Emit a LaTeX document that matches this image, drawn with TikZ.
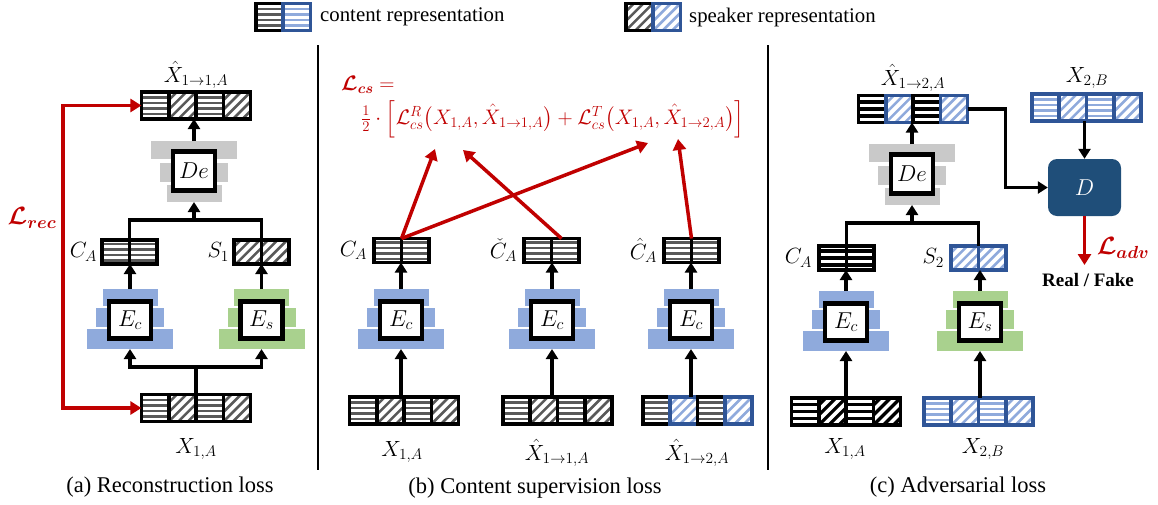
\RequirePackage{fix-cm}
\documentclass[tikz,border=0pt]{standalone}
\usepackage{amsmath}
\usepackage[no-math]{fontspec}
\setmainfont{Liberation Serif}
\usetikzlibrary{arrows.meta,fit,calc,positioning}
\definecolor{cred}{HTML}{C00000}
\definecolor{sgray}{HTML}{595959}
\definecolor{lblue}{HTML}{8FAADC}
\definecolor{dblue}{HTML}{2F5597}
\definecolor{gslab}{HTML}{A9D18E}
\definecolor{bslab}{HTML}{8FAADC}
\definecolor{kslab}{HTML}{C9C9C9}
\definecolor{dbox}{HTML}{1F4E79}
\tikzset{
 cellbase/.style={rectangle, minimum width=27.3pt, minimum height=27pt, inner sep=0, outer sep=0, line width=3.6pt},
 hlines/.style={path picture={\foreach \k in {-8.25,-2.75,2.75,8.25} \draw[#1,line width=2.5pt] ([yshift=\k pt]path picture bounding box.west) -- ([yshift=\k pt]path picture bounding box.east);}},
 klines/.style={path picture={\foreach \k in {-7,0,7} \draw[black,line width=3.2pt] ([yshift=\k pt]path picture bounding box.west) -- ([yshift=\k pt]path picture bounding box.east);}},
 dlines/.style={path picture={\foreach \k in {-4,...,4} \draw[#1,line width=2.6pt] ([xshift=\k*9.5pt-20pt,yshift=-20pt]path picture bounding box.center) -- ([xshift=\k*9.5pt+20pt,yshift=20pt]path picture bounding box.center);}},
 dklines/.style={path picture={\foreach \k in {-4,...,4} \draw[black,line width=3.3pt] ([xshift=\k*10pt-20pt,yshift=-20pt]path picture bounding box.center) -- ([xshift=\k*10pt+20pt,yshift=20pt]path picture bounding box.center);}},
 ch/.style={cellbase, draw=black, hlines=sgray},
 sh/.style={cellbase, draw=black, dlines=sgray},
 ck/.style={cellbase, draw=black, klines},
 sk/.style={cellbase, draw=black, dklines},
 cb/.style={cellbase, draw=dblue, hlines=lblue},
 sb/.style={cellbase, draw=dblue, dlines=lblue},
 sm/.style={minimum height=24pt},
 fitbox/.style={inner sep=0, outer sep=0},
 ebox/.style={draw, line width=4.3pt, fill=white, minimum width=42pt, minimum height=37pt, inner sep=0, font=\fontsize{23}{25}\selectfont},
 arr/.style={line width=3.3pt, -{Triangle[width=12pt,length=10pt]}},
 ln/.style={line width=3.3pt},
 rarr/.style={cred, line width=3.5pt, -{Triangle[width=13pt,length=11pt]}},
 rboth/.style={cred, line width=3.5pt, {Triangle[width=13pt,length=11pt]}-{Triangle[width=13pt,length=11pt]}},
 txt/.style={inner sep=0, font=\fontsize{20.8}{24}\selectfont},
 captxt/.style={inner sep=0, font=\fontsize{22.5}{26}\selectfont},
 mlab/.style={inner sep=0, font=\fontsize{22}{26}\selectfont},
 rlab/.style={inner sep=0, text=cred, font=\fontsize{25}{28}\selectfont},
 rtxt/.style={inner sep=0, text=cred, font=\fontsize{21}{24}\selectfont},
 dnode/.style={rounded corners=9pt, fill=dbox, minimum width=73pt, minimum height=57pt, text=white, font=\fontsize{23}{25}\selectfont},
 rftxt/.style={inner sep=0, font=\fontsize{19}{22}\selectfont\bfseries}
}
\newcommand\encoder[5]{%
 \fill[#4] ({#2-27.5},#3) rectangle ({#2+27.5},{#3+17});
 \fill[#4] ({#2-34},{#3+19}) rectangle ({#2+34},{#3+38});
 \fill[#4] ({#2-43},{#3+40}) rectangle ({#2+43},{#3+60});
 \node[ebox] (#1) at (#2,{#3+31}) {$#5$};
 \coordinate (#1-top) at (#2,#3);
 \coordinate (#1-bot) at (#2,{#3+60});
}
\newcommand\decoder[3]{%
 \fill[kslab] ({#2-43},#3) rectangle ({#2+43},{#3+18});
 \fill[kslab] ({#2-34},{#3+22}) rectangle ({#2+34},{#3+41});
 \fill[kslab] ({#2-27.5},{#3+44}) rectangle ({#2+27.5},{#3+61});
 \node[ebox, minimum height=39pt] (#1) at (#2,{#3+30}) {$De$};
 \coordinate (#1-top) at (#2,#3);
 \coordinate (#1-bot) at (#2,{#3+61});
}
\newcommand\fourbar[7]{%
 \node[#4] (#1-1) at ({#2-40.95},#3) {};
 \node[#5] (#1-2) at ({#2-13.65},#3) {};
 \node[#6] (#1-3) at ({#2+13.65},#3) {};
 \node[#7] (#1-4) at ({#2+40.95},#3) {};
 \node[fitbox, fit=(#1-1)(#1-4)] (#1) {};
}
\newcommand\twobar[5]{%
 \node[#4] (#1-1) at ({#2-13.65},#3) {};
 \node[#5] (#1-2) at ({#2+13.65},#3) {};
 \node[fitbox, fit=(#1-1)(#1-2)] (#1) {};
}
\begin{document}
\begin{tikzpicture}[x=1pt,y=-1pt]
\useasboundingbox (0,0) rectangle (1158,504);
% legend
\twobar{lgc}{283}{17}{ch}{cb}
\node[txt, anchor=west] (lgct) at (320,17) {content representation};
\twobar{lgs}{653}{17}{sh}{sb}
\node[txt, anchor=west] (lgst) at (689,17) {speaker representation};
% separators
\draw[line width=1.2pt] (318,45) -- (318,470);
\draw[line width=1.2pt] (768,45) -- (768,470);
% ---------------- panel (a)
\fourbar{ta}{196}{105.5}{ch}{sh}{ch}{sh}
\node[mlab] (tal) at (196,75) {$\hat{X}_{1\rightarrow1,A}$};
\decoder{dea}{194}{141}
\draw[arr] (dea-top) -- (dea-top |- ta.south);
\twobar{ca}{129.5}{252}{ch,sm}{ch,sm}
\twobar{s1}{261.5}{252}{sh,sm}{sh,sm}
\node[mlab, left=5pt of ca] (cal) {$C_A$};
\node[mlab, left=5pt of s1] (s1l) {$S_1$};
\coordinate (ja) at (194,220);
\draw[ln] (ca.north) |- (ja) -| (s1.north);
\draw[arr] (ja) -- (dea-bot);
\encoder{eca}{130}{289}{bslab}{E_c}
\encoder{esa}{261.5}{289}{gslab}{E_s}
\draw[arr] (eca-top) -- (eca-top |- ca.south);
\draw[arr] (esa-top) -- (esa-top |- s1.south);
\fourbar{xa}{196}{408}{ch}{sh}{ch}{sh}
\node[mlab] (xal) at (196,449) {$X_{1,A}$};
\coordinate (jb) at (196,367);
\draw[ln] (xa.north) -- (jb);
\draw[arr] (jb) -| (eca-bot);
\draw[arr] (jb) -| (esa-bot);
\coordinate (recx) at (63,250);
\draw[rboth] (ta.west) -| (recx) |- (xa.west);
\node[rlab] (lrec) at (32,218) {$\boldsymbol{\mathcal{L}_{rec}}$};
\node[captxt] (capa) at (170,487) {(a) Reconstruction loss};
% ---------------- panel (b)
\node[rtxt, anchor=west] (f1) at (341,85) {$\boldsymbol{\mathcal{L}_{cs}} =$};
\node[rtxt, anchor=west] (f2) at (361,119) {$\tfrac{1}{2}\cdot\Bigl[\mathcal{L}^{R}_{cs}\bigl(X_{1,A},\hat{X}_{1\rightarrow1,A}\bigr)+\mathcal{L}^{T}_{cs}\bigl(X_{1,A},\hat{X}_{1\rightarrow2,A}\bigr)\Bigr]$};
\twobar{cb1}{401.5}{250.5}{ch,sm}{ch,sm}
\twobar{cb2}{551.5}{250.5}{ch,sm}{ch,sm}
\twobar{cb3}{691.5}{250.5}{ch,sm}{ch,sm}
\node[mlab, left=7pt of cb1] (cb1l) {$C_A$};
\node[mlab, left=7pt of cb2] (cb2l) {$\check{C}_A$};
\node[mlab, left=7pt of cb3] (cb3l) {$\hat{C}_A$};
\encoder{eb1}{401}{289}{bslab}{E_c}
\encoder{eb2}{552}{289}{bslab}{E_c}
\encoder{eb3}{691}{289}{bslab}{E_c}
\draw[arr] (eb1-top) -- (eb1-top |- cb1.south);
\draw[arr] (eb2-top) -- (eb2-top |- cb2.south);
\draw[arr] (eb3-top) -- (eb3-top |- cb3.south);
\fourbar{xb1}{404}{410.5}{ch}{sh}{ch}{sh}
\fourbar{xb2}{557.5}{410.5}{ch}{sh}{ch}{sh}
\fourbar{xb3}{697.5}{410.5}{ch}{sb}{ch}{sb}
\draw[arr] (eb1-bot |- xb1.north) -- (eb1-bot);
\draw[arr] (eb2-bot |- xb2.north) -- (eb2-bot);
\draw[arr] (eb3-bot |- xb3.north) -- (eb3-bot);
\node[mlab] (xb1l) at (402,452) {$X_{1,A}$};
\node[mlab] (xb2l) at (557,453) {$\hat{X}_{1\rightarrow1,A}$};
\node[mlab] (xb3l) at (697,453) {$\hat{X}_{1\rightarrow2,A}$};
\node[captxt] (capb) at (535,488) {(b) Content supervision loss};
\coordinate (t1) at (435,149);
\coordinate (t2) at (648,143);
\coordinate (t3) at (463,150);
\coordinate (t4) at (678,139);
\draw[rarr] (cb1.north) -- (t1);
\draw[rarr] (cb1.north) -- (t2);
\draw[rarr] ($(cb2.north)+(10,0)$) -- (t3);
\draw[rarr] (cb3.north) -- (t4);
% ---------------- panel (c)
\fourbar{tc}{913}{109}{ck}{sb}{ck}{sb}
\node[mlab] (tcl) at (913,78) {$\hat{X}_{1\rightarrow2,A}$};
\fourbar{x2}{1086.5}{107.5}{cb}{sb}{cb}{sb}
\node[mlab] (x2l) at (1087,78) {$X_{2,B}$};
\node[dnode] (D) at (1084.5,187.5) {$D$};
\draw[arr] (tc.east) -- ++(38,0) |- (D.west);
\draw[arr] (x2.south -| D.north) -- (D.north);
\coordinate (rfc) at (1084.5,265);
\draw[rarr] (D.south) -- (rfc);
\node[rlab] (ladv) at (1123,248) {$\boldsymbol{\mathcal{L}_{adv}}$};
\node[rftxt] (rfl) at (1088,280) {Real / Fake};
\decoder{dec}{912}{144}
\draw[arr] (dec-top) -- (dec-top |- tc.south);
\twobar{cc}{846.5}{258}{ck,sm}{ck,sm}
\twobar{s2}{978.5}{258}{sb,sm}{sb,sm}
\node[mlab, left=7pt of cc] (ccl) {$C_A$};
\node[mlab, left=7pt of s2] (s2l) {$S_2$};
\coordinate (jc) at (912,223);
\draw[ln] (cc.north) |- (jc) -| (s2.north);
\draw[arr] (jc) -- (dec-bot);
\encoder{ecc}{846}{291}{bslab}{E_c}
\encoder{esc}{980}{291}{gslab}{E_s}
\draw[arr] (ecc-top) -- (ecc-top |- cc.south);
\draw[arr] (esc-top) -- (esc-top |- s2.south);
\fourbar{xc1}{846}{411.5}{ck}{sk}{ck}{sk}
\fourbar{xc2}{978.5}{411.5}{cb}{sb}{cb}{sb}
\draw[arr] (ecc-bot |- xc1.north) -- (ecc-bot);
\draw[arr] (esc-bot |- xc2.north) -- (esc-bot);
\node[mlab] (xc1l) at (845,449) {$X_{1,A}$};
\node[mlab] (xc2l) at (983,449) {$X_{2,B}$};
\node[captxt] (capc) at (958,487) {(c) Adversarial loss};
\end{tikzpicture}
\end{document}
